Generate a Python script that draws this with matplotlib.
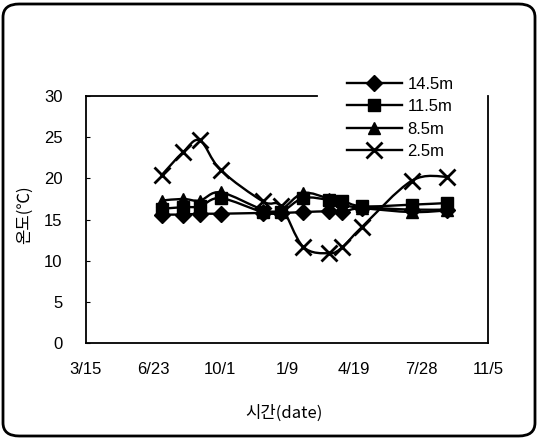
import datetime as dt
import numpy as np
import matplotlib
matplotlib.use("Agg")
import matplotlib.pyplot as plt
import matplotlib.dates as mdates
from matplotlib.path import Path
from matplotlib.patches import PathPatch, FancyBboxPatch
from matplotlib.lines import Line2D

plt.rcParams['font.family'] = ['Liberation Sans', 'Noto Sans CJK KR', 'DejaVu Sans']

# ---- data ----
dates = ['2004-07-06', '2004-08-07', '2004-09-01', '2004-10-02', '2004-12-04', '2004-12-31',
         '2005-02-02', '2005-03-13', '2005-04-01', '2005-05-01', '2005-07-14', '2005-09-05']
depth_labels = ['14.5m', '11.5m', '8.5m', '2.5m']
temp_14_5 = [15.6, 15.6, 15.7, 15.7, 15.8, 15.8, 15.9, 16.0, 15.9, 16.4, 16.2, 16.2]
temp_11_5 = [16.3, 16.5, 16.6, 17.6, 15.9, 15.9, 17.6, 17.4, 17.3, 16.6, 16.8, 17.0]
temp_8_5 = [17.3, 17.5, 17.3, 18.3, 16.2, 16.2, 18.2, 17.5, 16.8, 16.4, 15.9, 16.1]
temp_2_5 = [20.4, 23.2, 24.6, 21.0, 17.2, 16.6, 11.7, 10.9, 11.6, 14.1, 19.7, 20.2]
x_start = '2004-03-15'
x_step_days = 100
tick_labels = ['3/15', '6/23', '10/1', '1/9', '4/19', '7/28', '11/5']
y_ticks = [0, 5, 10, 15, 20, 25, 30]
x_label = '시간(date)'
y_label = '온도(℃)'

series = [temp_14_5, temp_11_5, temp_8_5, temp_2_5]
markers = ['D', 's', '^', 'x']
msizes = [8, 9, 9, 11]

W, H = 542, 440
fig = plt.figure(figsize=(W / 100, H / 100), dpi=100)
ax = fig.add_axes([86 / W, 1 - 343 / H, (488 - 86) / W, (343 - 96) / H])

xn = mdates.date2num([dt.datetime.fromisoformat(d) for d in dates])
x0 = mdates.date2num(dt.datetime.fromisoformat(x_start))
ticks = [x0 + i * x_step_days for i in range(len(tick_labels))]


def smooth_path(x, y):
    pts = np.column_stack([x, y])
    n = len(pts)
    verts = [pts[0]]
    codes = [Path.MOVETO]
    for i in range(n - 1):
        p0 = pts[i - 1] if i > 0 else pts[i]
        p1 = pts[i]
        p2 = pts[i + 1]
        p3 = pts[i + 2] if i + 2 < n else pts[i + 1]
        c1 = p1 + (p2 - p0) / 6.0
        c2 = p2 - (p3 - p1) / 6.0
        verts += [c1, c2, p2]
        codes += [Path.CURVE4] * 3
    return Path(verts, codes)


handles = []
for vals, mk, ms, lab in zip(series, markers, msizes, depth_labels):
    patch = PathPatch(smooth_path(xn, np.array(vals)), facecolor='none',
                      edgecolor='black', lw=1.7, zorder=3)
    ax.add_patch(patch)
    mew = 2.0 if mk == 'x' else 1
    ax.plot(xn, vals, linestyle='none', marker=mk, ms=ms, color='black',
            mec='black', mew=mew, zorder=4)
    handles.append(Line2D([], [], color='black', lw=1.7, marker=mk, ms=ms, mew=mew, label=lab))

ax.set_xlim(ticks[0], ticks[-1])
ax.set_ylim(0, 30)
ax.set_xticks(ticks)
ax.set_xticklabels(tick_labels)
ax.set_yticks(y_ticks)
ax.tick_params(axis='x', length=0, pad=14, labelsize=12)
ax.tick_params(axis='y', direction='in', length=3, pad=17, labelsize=12)
for s in ['left', 'right', 'bottom']:
    ax.spines[s].set_linewidth(1.3)
ax.spines['top'].set_visible(False)
ax.plot([0, (317 - 86) / (488 - 86)], [1, 1], transform=ax.transAxes, color='black',
        lw=1.3, clip_on=False, zorder=5)

fig.text(284 / W, 1 - 413 / H, x_label, ha='center', va='center', fontsize=12,
         family=['Noto Sans CJK KR', 'DejaVu Sans'])
fig.text(24 / W, 1 - 215 / H, y_label, ha='center', va='center', rotation=90, fontsize=12,
         family=['Noto Sans CJK KR', 'DejaVu Sans'])

fig.legend(handles=handles, loc='upper left', bbox_to_anchor=(340 / W, 1 - 70 / H),
           frameon=False, fontsize=12, handlelength=3.3, handletextpad=0.35,
           labelspacing=0.45, borderaxespad=0, borderpad=0.4)

border = FancyBboxPatch((3 / W, 4 / H), (535 - 3) / W, (436 - 4) / H,
                        boxstyle='round,pad=0,rounding_size=0.03',
                        transform=fig.transFigure, facecolor='none', edgecolor='black',
                        lw=2.0)
fig.patches.append(border)

fig.savefig('out.png', dpi=100)
